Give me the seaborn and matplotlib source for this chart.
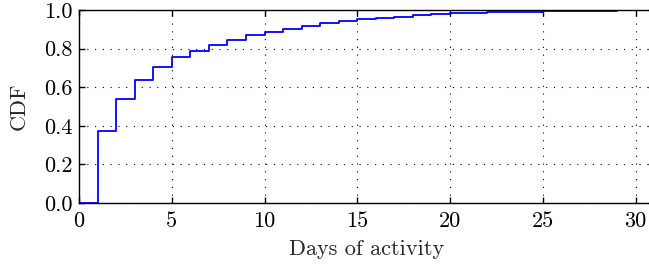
import matplotlib
matplotlib.use("Agg")
import matplotlib.pyplot as plt
import seaborn as sns
import pandas as pd

days = [0, 1, 2, 3, 4, 5, 6, 7, 8, 9, 10, 11, 12, 13, 14, 15, 16, 17, 18, 19, 20,
        21, 22, 23, 24, 25, 26, 27, 28, 29, 30, 31]
cdf = [0.0, 0.375, 0.537, 0.635, 0.705, 0.755, 0.789, 0.820, 0.845, 0.871, 0.886,
       0.903, 0.918, 0.931, 0.943, 0.952, 0.959, 0.966, 0.972, 0.977, 0.982,
       0.985, 0.988, 0.990, 0.992, 0.994, 0.995, 0.996, 0.997, 0.998, 0.999, 1.0]

x_label = "Days of activity"
y_label = "CDF"
x_ticks = [0, 5, 10, 15, 20, 25, 30]
y_ticks = [0.0, 0.2, 0.4, 0.6, 0.8, 1.0]

sns.set_style("white")
plt.rcParams.update({
    "font.family": "serif",
    "font.serif": ["cmr10"],
    "mathtext.fontset": "cm",
    "axes.formatter.use_mathtext": True,
    "xtick.direction": "in",
    "ytick.direction": "in",
    "xtick.top": True,
    "ytick.right": True,
    "xtick.bottom": True,
    "ytick.left": True,
    "xtick.major.size": 4,
    "ytick.major.size": 4,
    "xtick.major.width": 1.0,
    "ytick.major.width": 1.0,
    "xtick.color": "black",
    "ytick.color": "black",
    "axes.edgecolor": "black",
    "axes.linewidth": 1.0,
})

df = pd.DataFrame({"days": days, "cdf": cdf})

fig = plt.figure(figsize=(6.49, 2.66), dpi=100)
ax = fig.add_axes([79 / 649, 63 / 266, 31 * 18.55 / 649, 193 / 266])

sns.lineplot(data=df, x="days", y="cdf", ax=ax, color="#0000ff",
             linewidth=1.3, drawstyle="steps-post", estimator=None)

ax.set_xlim(0, 31)
ax.set_ylim(0, 1)
ax.set_xticks(x_ticks)
ax.set_yticks(y_ticks)
ax.set_xticklabels([str(t) for t in x_ticks])
ax.set_yticklabels([f"{t:.1f}" for t in y_ticks])
ax.tick_params(axis="x", labelsize=16, pad=6)
ax.tick_params(axis="y", labelsize=16, pad=4.5)
ax.grid(True, linestyle=(0, (1, 6)), color="black", linewidth=0.8)
ax.set_xlabel(x_label, fontsize=16, labelpad=6)
ax.set_ylabel(y_label, fontsize=16, labelpad=11)
for s in ax.spines.values():
    s.set_visible(True)
    s.set_color("black")

fig.savefig("out.png", dpi=100)
